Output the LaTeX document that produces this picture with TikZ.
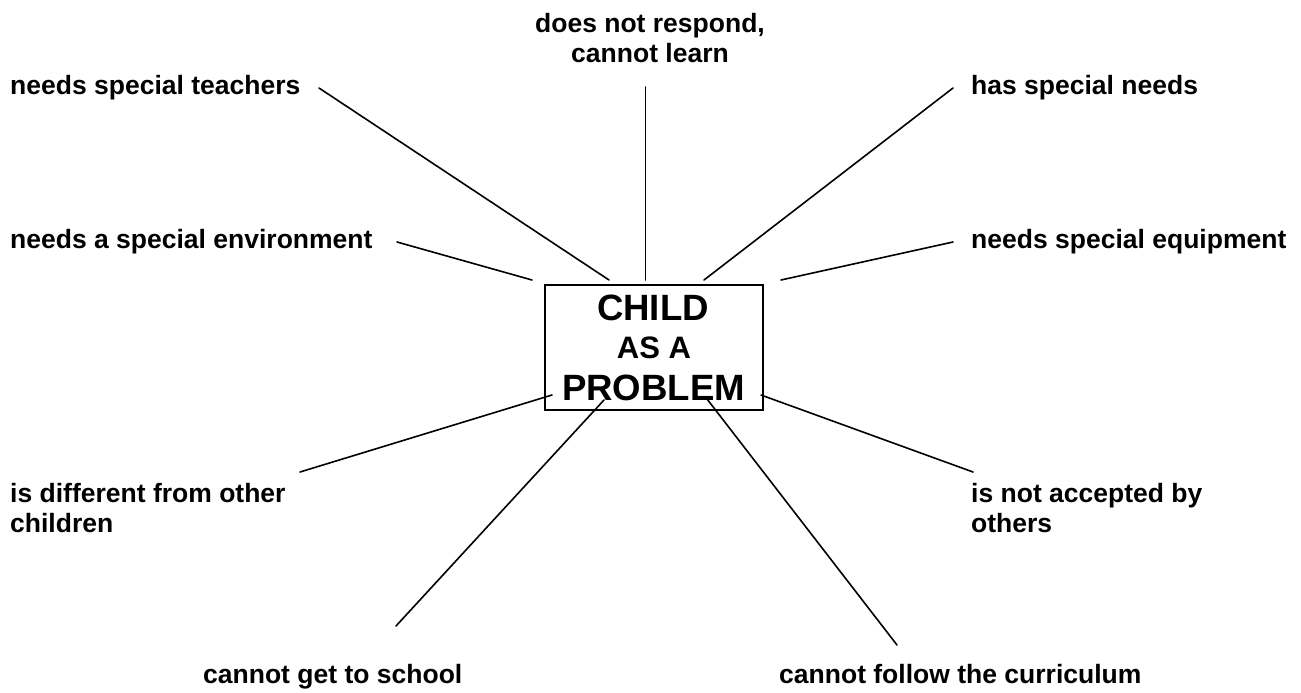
\documentclass[tikz,border=0pt]{standalone}
\usepackage{fontspec}
\setmainfont{Liberation Sans}
\begin{document}
\begin{tikzpicture}[x=1pt,y=-1pt,
  lab/.style={font=\bfseries\fontsize{26.5}{30}\selectfont, inner sep=0pt, anchor=base west, align=left},
  conn/.style={line width=1.6pt, line cap=round},
  probbox/.style={draw, line width=2.4pt, minimum width=218pt, minimum height=125pt, inner sep=0pt, align=center}]
\useasboundingbox (0,0) rectangle (1301,693);

% central box
\node[probbox] (prob) at (654,347.5) {};
\node[font=\bfseries\fontsize{36.6}{38}\selectfont, inner sep=0pt, anchor=base] (child) at (653,320) {CHILD};
\node[font=\bfseries\fontsize{31}{38}\selectfont, inner sep=0pt, anchor=base] (asa) at (654,358) {AS A};
\node[font=\bfseries\fontsize{36.6}{38}\selectfont, inner sep=0pt, anchor=base] (problem) at (653.5,400) {PROBLEM};

% labels (base of multi-line nodes = baseline of last line)
\node[lab] (teach) at (10,95) {needs special teachers};
\node[lab, align=center, anchor=base] (resp) at (650,63) {does not respond,\\cannot learn};
\node[lab] (needs) at (971,95) {has special needs};
\node[lab] (env) at (10,248) {needs a special environment};
\node[lab] (equip) at (971,248) {needs special equipment};
\node[lab] (diff) at (10,532) {is different from other\\children};
\node[lab] (acc) at (971,532) {is not accepted by\\others};
\node[lab] (get) at (203,683) {cannot get to school};
\node[lab] (curr) at (779,683) {cannot follow the curriculum};

% connector end points
\coordinate (teachE) at (319,88);   \coordinate (teachB) at (609,280);
\coordinate (respE) at (645.5,87);  \coordinate (respB) at (645.5,280);
\coordinate (needsE) at (953,88);   \coordinate (needsB) at (704,280);
\coordinate (envE) at (397,242);    \coordinate (envB) at (532,280);
\coordinate (equipE) at (953,242);  \coordinate (equipB) at (781,280);
\coordinate (diffE) at (300,472);   \coordinate (diffB) at (552,395);
\coordinate (accE) at (973,472);    \coordinate (accB) at (761,395);
\coordinate (getE) at (396,626);    \coordinate (getB) at (604,400);
\coordinate (currE) at (897,645);   \coordinate (currB) at (707,399);

\draw[conn] (teachE) -- (teachB);
\draw[conn] (respE) -- (respB);
\draw[conn] (needsE) -- (needsB);
\draw[conn] (envE) -- (envB);
\draw[conn] (equipE) -- (equipB);
\draw[conn] (diffE) -- (diffB);
\draw[conn] (accE) -- (accB);
\draw[conn] (getE) -- (getB);
\draw[conn] (currE) -- (currB);
\end{tikzpicture}
\end{document}
